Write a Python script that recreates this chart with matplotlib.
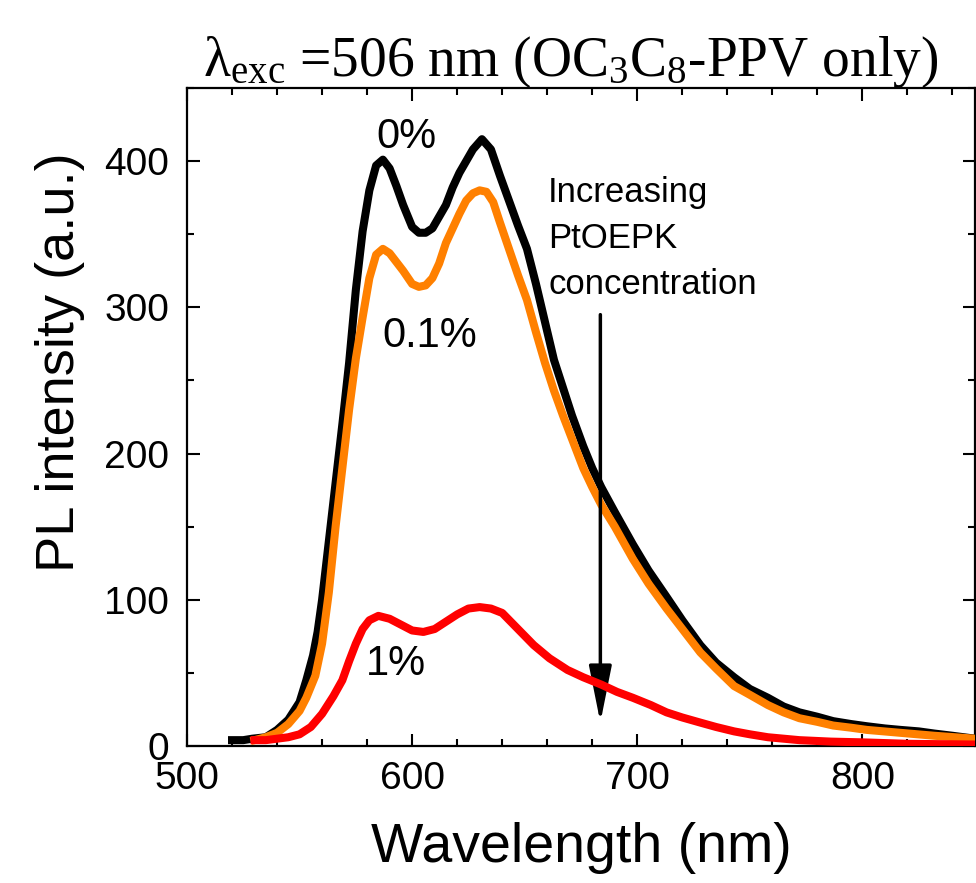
import matplotlib
matplotlib.use("Agg")
import matplotlib.pyplot as plt
from matplotlib.ticker import MultipleLocator

# 0% PtOEPK (black)
wl_0 = [520, 525, 529, 535, 540, 545, 550, 553, 556, 558, 560, 563, 566, 569, 572,
        575, 578, 581, 584, 587, 590, 593, 596, 600, 603, 606, 609, 612, 615, 618,
        621, 624, 627, 631, 635, 639, 643, 647, 651, 655, 659, 663, 667, 671, 676,
        680, 684, 690, 698, 705, 713, 720, 728, 735, 743, 750, 758, 765, 772, 780,
        787, 795, 802, 810, 817, 825, 832, 840, 850]
pl_0 = [4, 4, 5, 6, 11, 18, 30, 45, 62, 78, 100, 140, 180, 220, 262,
        312, 352, 380, 397, 401, 395, 383, 370, 355, 351, 351, 354, 362, 370, 382,
        392, 400, 408, 415, 408, 390, 373, 356, 340, 316, 290, 264, 245, 226, 205,
        190, 177, 160, 138, 120, 102, 86, 69, 57, 47, 39, 33, 27, 23, 20,
        17, 15, 13.5, 12, 11, 10, 8.5, 7, 5]

# 0.1% PtOEPK (orange)
wl_01 = [530, 535, 540, 545, 550, 553, 557, 560, 563, 566, 569, 572, 575, 578, 581,
         584, 587, 590, 593, 596, 600, 603, 606, 609, 612, 615, 618, 621, 624, 627,
         630, 633, 636, 639, 643, 647, 651, 655, 659, 663, 667, 671, 676, 680, 684,
         690, 698, 705, 713, 720, 728, 735, 743, 750, 758, 765, 772, 780, 787, 795,
         802, 817, 832, 850]
pl_01 = [4, 6, 9, 15, 24, 33, 48, 70, 105, 150, 190, 230, 265, 293, 320,
         336, 340, 337, 331, 325, 316, 314, 315, 320, 330, 344, 354, 364, 373, 378,
         380, 379, 372, 358, 340, 322, 305, 283, 262, 243, 226, 210, 190, 177, 165,
         150, 128, 111, 94, 80, 64, 53, 41, 35, 28, 23, 19, 16.5, 14, 12.5,
         11, 9, 7, 5]

# 1% PtOEPK (red)
wl_1 = [530, 535, 540, 545, 550, 555, 560, 565, 569, 572, 575, 578, 581, 585, 590,
        595, 600, 605, 610, 615, 620, 625, 630, 635, 640, 647, 654, 661, 669, 676,
        684, 691, 698, 706, 713, 720, 728, 735, 743, 750, 758, 772, 786, 800, 820, 850]
pl_1 = [4, 4, 5, 6, 8, 13, 22, 34, 45, 58, 70, 80, 86, 89, 87,
        83, 79, 78, 80, 85, 90, 94, 95, 94, 91, 80, 69, 60, 52, 47,
        42, 37, 33, 28, 23, 19.5, 16, 13, 10, 8, 6, 4, 3, 2.5, 1.5, 1]

plt.rcParams["font.family"] = ["Liberation Sans", "DejaVu Sans"]
plt.rcParams["mathtext.fontset"] = "custom"
plt.rcParams["mathtext.rm"] = "Liberation Serif"
plt.rcParams["mathtext.it"] = "Liberation Serif:italic"

fig = plt.figure(figsize=(9.76, 8.83), dpi=100)
ax = fig.add_axes([187 / 976, 1 - 746 / 883, 788 / 976, 658 / 883])

ax.plot(wl_0, pl_0, color="black", lw=5.8, zorder=2, solid_joinstyle="round")
ax.plot(wl_01, pl_01, color="#ff8000", lw=5.8, zorder=3, solid_joinstyle="round")
ax.plot(wl_1, pl_1, color="#ff0000", lw=5.8, zorder=4, solid_joinstyle="round")

ax.set_xlim(500, 850)
ax.set_ylim(0, 450)
ax.xaxis.set_major_locator(MultipleLocator(100))
ax.xaxis.set_minor_locator(MultipleLocator(20))
ax.yaxis.set_major_locator(MultipleLocator(100))
ax.yaxis.set_minor_locator(MultipleLocator(50))
ax.tick_params(which="both", direction="in", top=True, right=True, width=1.5,
               labelsize=28)
ax.tick_params(axis="x", pad=11)
ax.tick_params(axis="y", pad=13)
ax.tick_params(which="major", length=9)
ax.tick_params(which="minor", length=5)
for s in ax.spines.values():
    s.set_linewidth(1.6)

fig.text(581 / 976, 1 - 862 / 883, "Wavelength (nm)", fontsize=40,
         ha="center", va="baseline")
fig.text(60 / 976, 1 - 362 / 883, "PL intensity (a.u.)", fontsize=39,
         rotation=90, ha="center", va="center")

fig.text(571 / 976, 1 - 76 / 883,
         r"$\mathrm{\lambda}_{\mathrm{exc}}$ =506 nm (OC$_3$C$_8$-PPV only)",
         fontsize=40, family=["Liberation Serif", "DejaVu Serif"],
         ha="center", va="baseline")

ax.text(584, 409, "0%", fontsize=30, va="baseline", ha="left")
ax.text(586.7, 273, "0.1%", fontsize=30, va="baseline", ha="left")
ax.text(579.6, 48.6, "1%", fontsize=30, va="baseline", ha="left")

ax.text(660.4, 390, "Increasing\nPtOEPK\nconcentration", fontsize=25,
        va="top", ha="left", linespacing=1.5)
ax.annotate("", xy=(683.6, 16), xytext=(683.6, 295),
            arrowprops=dict(arrowstyle="-|>,head_length=3.5,head_width=0.7",
                            mutation_scale=10, lw=2.5, color="black",
                            shrinkA=0, shrinkB=0))

fig.savefig("out.png", dpi=100)
